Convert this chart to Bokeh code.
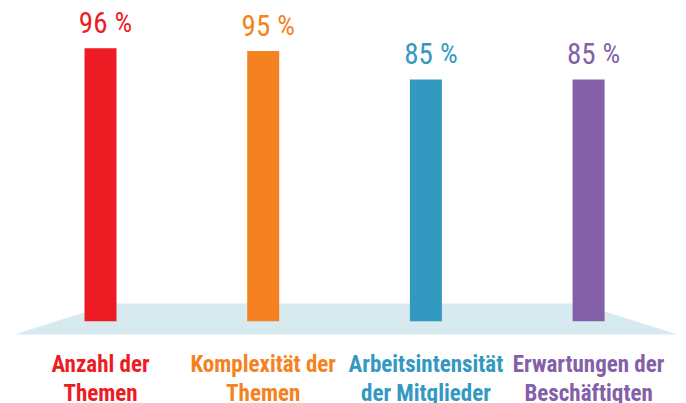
from bokeh.plotting import figure
from bokeh.models import Range1d, ColumnDataSource
from bokeh.embed import file_html
from bokeh.resources import INLINE
from bokeh.core.properties import value

# ---- data ----
label_line1 = ["Anzahl der", "Komplexität der", "Arbeitsintensität", "Erwartungen der"]
label_line2 = ["Themen", "Themen", "der Mitglieder", "Beschäftigten"]
values = [96, 95, 85, 85]
colors = ["#ED1C24", "#F58220", "#3399C1", "#8460A8"]
positions = [0, 1, 2, 3]

# ---- layout (pixel geometry) ----
W, H = 686, 403
PX_PER_UNIT = 2.844          # vertical pixels per percent
ZERO_Y = 320.7               # pixel (from top) of the 0 % line
X_STEP = 162.7               # pixels between bar centres
FIRST_X = 100                # pixel x of first bar centre

y0 = -(H - ZERO_Y) / PX_PER_UNIT
y1 = y0 + H / PX_PER_UNIT
x0 = -FIRST_X / X_STEP
x1 = x0 + W / X_STEP


def py(fy):  # pixel from top -> data y
    return y0 + (H - fy) / PX_PER_UNIT


def px(fx):  # pixel from left -> data x
    return x0 + fx / X_STEP


p = figure(width=W, height=H, x_range=Range1d(x0, x1), y_range=Range1d(y0, y1),
           output_backend="svg", toolbar_location=None, min_border=0,
           x_axis_location=None, y_axis_location=None)
p.grid.visible = False
p.outline_line_color = None
p.background_fill_color = "white"
p.border_fill_color = "white"

# floor
p.patch(x=[px(14), px(677), px(579), px(112)], y=[py(334), py(334), py(303), py(303)],
        fill_color="#D6EAF0", line_color=None)

src = ColumnDataSource(dict(
    x=positions, top=values, color=colors,
    num=[str(v) for v in values], pct=["%"] * len(values),
    vy=[v + 25.5 / PX_PER_UNIT for v in values],
    l1=label_line1, l2=label_line2,
    ly1=[py(364)] * len(values), ly2=[py(393)] * len(values),
))

p.vbar(x="x", top="top", bottom=0, width=32 / X_STEP, fill_color="color",
       line_color=None, source=src)

FONT = value("Roboto Condensed")

p.text(x="x", y="vy", text="num", text_color="color", text_font=FONT,
       text_font_size="29px", text_align="right", text_baseline="middle",
       x_offset=7, source=src)
p.text(x="x", y="vy", text="pct", text_color="color", text_font=FONT,
       text_font_size="28px", text_align="left", text_baseline="middle",
       x_offset=14, source=src)

p.text(x="x", y="ly1", text="l1", text_color="color", text_font=FONT,
       text_font_style="bold", text_font_size="23px", text_align="center",
       text_baseline="middle", source=src)
p.text(x="x", y="ly2", text="l2", text_color="color", text_font=FONT,
       text_font_style="bold", text_font_size="23px", text_align="center",
       text_baseline="middle", source=src)

open("out.html", "w").write(file_html(p, INLINE))
